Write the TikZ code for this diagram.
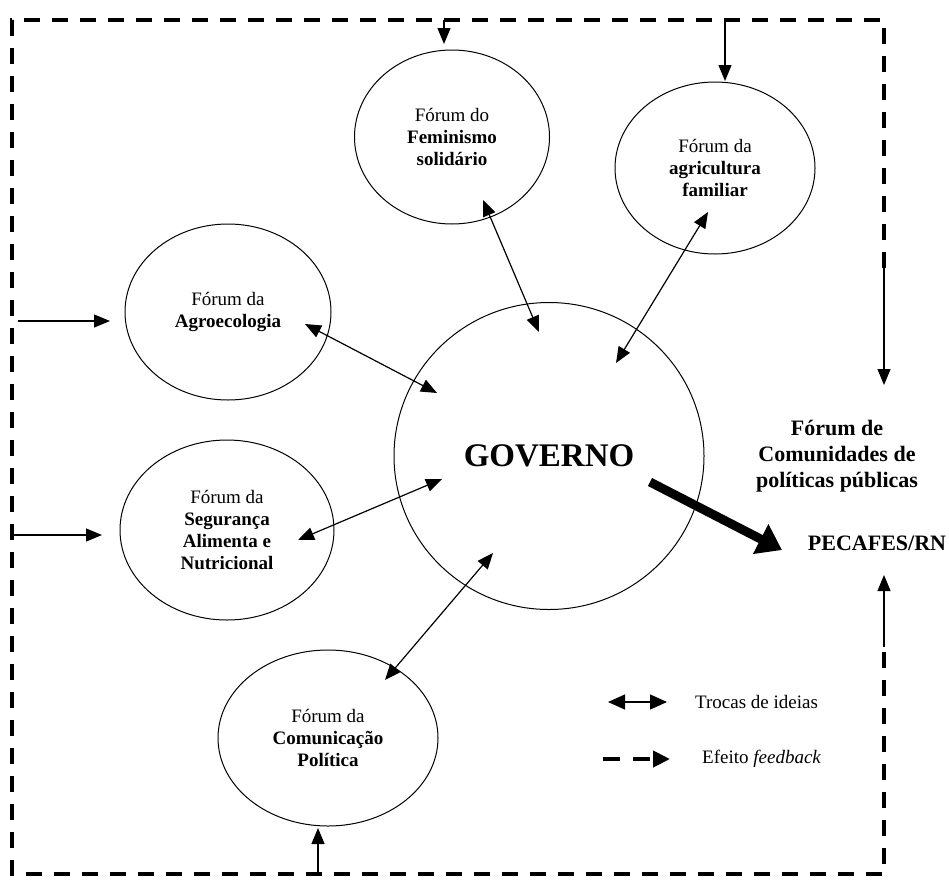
\documentclass[tikz,border=0pt]{standalone}
\usepackage{fontspec}
\setmainfont{Liberation Serif}
\usetikzlibrary{arrows.meta,shapes.geometric}

\begin{document}
\begin{tikzpicture}[x=1pt,y=-1pt,
  forum/.style={draw,ellipse,line width=1pt,inner sep=0pt,align=center,
    font=\fontsize{19}{22}\selectfont},
  gov/.style={draw,ellipse,line width=1pt,inner sep=0pt,
    font=\fontsize{33}{36}\selectfont\bfseries},
  label/.style={align=center,inner sep=0pt,font=\fontsize{22}{26}\selectfont\bfseries},
  legendtext/.style={inner sep=0pt,anchor=west,font=\fontsize{19}{22}\selectfont},
  troca/.style={line width=1.2pt,{Triangle[length=16pt,width=13pt]}-{Triangle[length=16pt,width=13pt]}},
  feed/.style={line width=1.2pt,-{Triangle[length=16pt,width=13pt]}},
  border/.style={line width=4pt,dash pattern=on 16pt off 12pt},
  bigarrow/.style={line width=9pt,-{Triangle[length=24pt,width=32pt]}}
]
\useasboundingbox (0,0) rectangle (949,881);

% Central circle
\node[gov,minimum width=310pt,minimum height=307pt] (gov) at (549,456) {GOVERNO};

% Forum ellipses
\node[forum,minimum width=195pt,minimum height=174pt] (fem) at (452,137)
  {Fórum do\\\textbf{Feminismo}\\\textbf{solidário}};
\node[forum,minimum width=200pt,minimum height=172pt] (agr) at (715,168)
  {Fórum da\\\textbf{agricultura}\\\textbf{familiar}};
\node[forum,minimum width=206pt,minimum height=176pt] (agro) at (228,312)
  {Fórum da\\\textbf{Agroecologia}};
\node[forum,minimum width=214pt,minimum height=180pt] (seg) at (227,530)
  {Fórum da\\\textbf{Segurança}\\\textbf{Alimenta e}\\\textbf{Nutricional}};
\node[forum,minimum width=220pt,minimum height=176pt] (com) at (328,738)
  {Fórum da\\\textbf{Comunicação}\\\textbf{Política}};

% Right-hand labels
\node[label] (comunidades) at (837,456) {Fórum de\\Comunidades de\\políticas públicas};
\node[label] (pecafes) at (877,543) {PECAFES/RN};

% Exchange arrows: end points inside the forums and inside the circle
\coordinate (fem-e) at (483,200);  \coordinate (fem-g) at (539,332);
\coordinate (agr-e) at (708,212);  \coordinate (agr-g) at (616,363);
\coordinate (agro-e) at (305,324); \coordinate (agro-g) at (437,393);
\coordinate (seg-e) at (298,540);  \coordinate (seg-g) at (442,479);
\coordinate (com-e) at (385,680);  \coordinate (com-g) at (493,553);
\draw[troca] (fem-e) -- (fem-g);
\draw[troca] (agr-e) -- (agr-g);
\draw[troca] (agro-e) -- (agro-g);
\draw[troca] (seg-e) -- (seg-g);
\draw[troca] (com-e) -- (com-g);

% Main effect arrow
\coordinate (gov-out) at (650,482);
\coordinate (pec-in) at (782,550);
\draw[bigarrow] (gov-out) -- (pec-in);

% Feedback loop (dashed frame)
\coordinate (r-top) at (884,268);
\coordinate (r-bot) at (884,647);
\draw[border] (r-top) -- (884,20) -- (12,20) -- (12,874) -- (884,874) -- (r-bot);
\draw[feed] (r-top) -- (884,385);
\draw[feed] (r-bot) -- (884,575);

% Feedback arrows from the frame
\coordinate (f1a) at (444,20);  \coordinate (f1b) at (444,44);
\coordinate (f2a) at (725,20);  \coordinate (f2b) at (725,81);
\coordinate (f3a) at (18,321);  \coordinate (f3b) at (110,321);
\coordinate (f4a) at (12,535);  \coordinate (f4b) at (102,535);
\coordinate (f5a) at (318,874); \coordinate (f5b) at (318,828);
\draw[feed] (f1a) -- (f1b);
\draw[feed] (f2a) -- (f2b);
\draw[feed] (f3a) -- (f3b);
\draw[feed] (f4a) -- (f4b);
\draw[feed] (f5a) -- (f5b);

% Legend
\coordinate (lg1a) at (608,702); \coordinate (lg1b) at (667,702);
\draw[troca,{Triangle[length=17pt,width=15pt]}-{Triangle[length=17pt,width=15pt]}] (lg1a) -- (lg1b);
\node[legendtext] (lt1) at (695,702) {Trocas de ideias};
\coordinate (lg2a) at (603,759); \coordinate (lg2b) at (670,759);
\draw[line width=4pt,dash pattern=on 17pt off 13pt,-{Triangle[length=17pt,width=16pt]}] (lg2a) -- (lg2b);
\node[legendtext] (lt2) at (702,759) {Efeito \textit{feedback}};
\end{tikzpicture}
\end{document}
